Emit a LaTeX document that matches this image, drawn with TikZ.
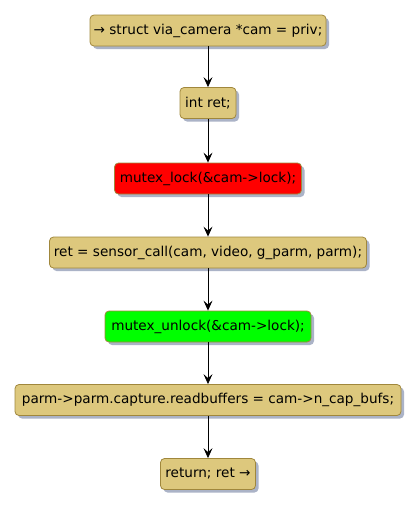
\documentclass[tikz,border=0pt]{standalone}
\usepackage{fontspec}
\setmainfont{DejaVu Sans}
\usetikzlibrary{arrows.meta,shadows}
\definecolor{boxfill}{RGB}{221,200,125}
\definecolor{boxline}{RGB}{160,135,60}
\definecolor{shadowc}{RGB}{150,160,185}
\begin{document}
\begin{tikzpicture}[x=1pt,y=-1pt,
  act/.style={draw=boxline, line width=0.8pt, fill=boxfill, rounded corners=4pt,
    minimum height=31pt, inner xsep=0pt, inner ysep=0pt, font=\fontsize{13.6pt}{16pt}\selectfont,
    drop shadow={shadow xshift=3pt, shadow yshift=-3pt, fill=shadowc, opacity=0.8}},
  flow/.style={-{Stealth[length=10pt,width=9pt,inset=4pt]}, line width=0.8pt, black}]
\useasboundingbox (0,0) rectangle (418,507);
\node[act, minimum width=236pt] (n1) at (208,30.5) {→ struct via\_camera *cam = priv;};
\node[act, minimum width=56pt] (n2) at (208,103) {int ret;};
\node[act, minimum width=187pt, fill=red] (n3) at (208,178.5) {mutex\_lock(\&cam->lock);};
\node[act, minimum width=317pt] (n4) at (208,252.5) {ret = sensor\_call(cam, video, g\_parm, parm);};
\node[act, minimum width=206pt, fill=green] (n5) at (208,326.5) {mutex\_unlock(\&cam->lock);};
\node[act, minimum width=386pt] (n6) at (208,400) {parm->parm.capture.readbuffers = cam->n\_cap\_bufs;};
\node[act, minimum width=95pt] (n7) at (208,474) {return; ret →};
\draw[flow] (n1) -- (n2);
\draw[flow] (n2) -- (n3);
\draw[flow] (n3) -- (n4);
\draw[flow] (n4) -- (n5);
\draw[flow] (n5) -- (n6);
\draw[flow] (n6) -- (n7);
\end{tikzpicture}
\end{document}
